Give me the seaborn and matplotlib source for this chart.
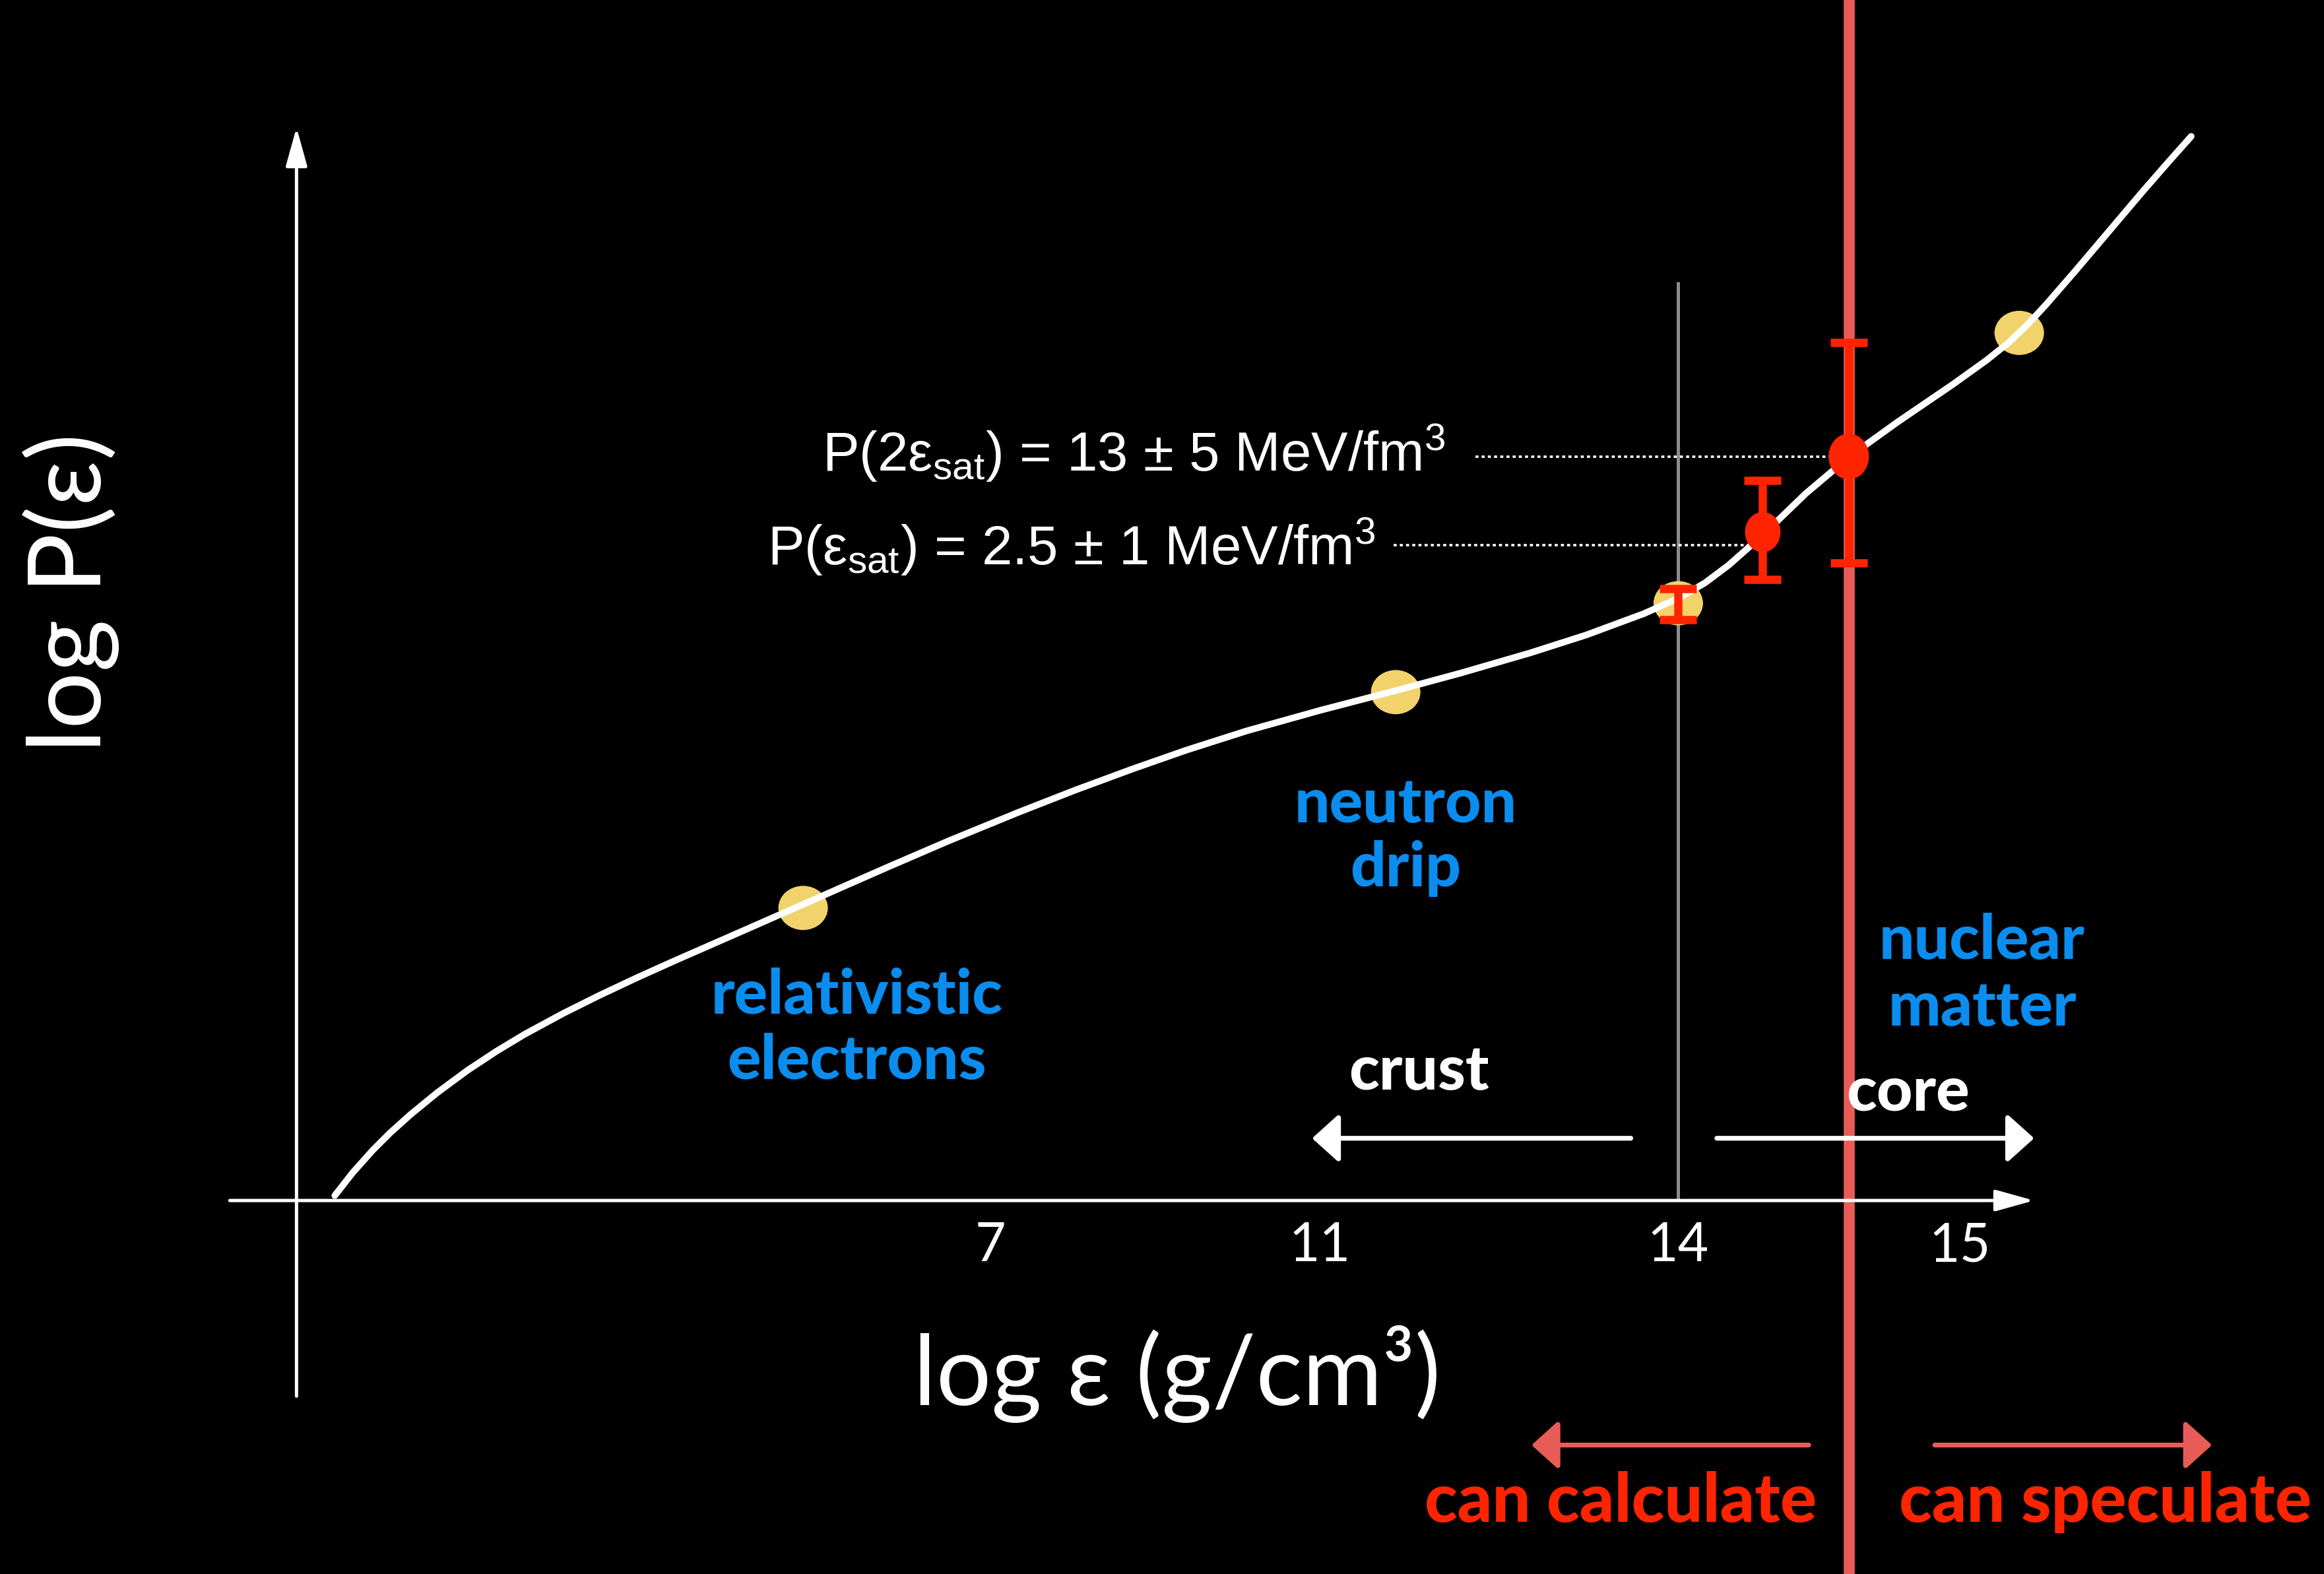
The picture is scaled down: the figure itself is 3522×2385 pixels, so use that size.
import matplotlib
matplotlib.use("Agg")
import matplotlib.pyplot as plt
import matplotlib.font_manager as fm
import seaborn as sns
import pandas as pd
import numpy as np
from matplotlib.path import Path
from matplotlib.markers import MarkerStyle

# ---------------- data (schematic units; y grows downward) ----
curve_x = [225.8, 238, 251.4, 263, 276.9, 295, 315.3, 335, 353.6, 380, 404.7, 430, 455.8,
           480, 506.9, 541.7, 570, 598.9, 640, 687.4, 725, 764, 800, 840.7, 890, 941.4,
           985, 1032.2, 1070, 1108.9, 1133, 1150, 1166, 1189, 1218, 1247.6, 1280, 1317,
           1340, 1355, 1368, 1380, 1400, 1420, 1445, 1462, 1478]
curve_y = [806.7, 791.1, 776.1, 764.5, 752, 737.2, 722.2, 709.2, 698, 683.7, 671.4, 659.5,
           647.9, 637.3, 625.5, 610.2, 597.7, 585, 567.3, 547.9, 533.2, 518.8, 506.2, 493.2,
           479.4, 466, 454.2, 440.5, 428.4, 414, 403.2, 393.3, 381.3, 361, 333, 308, 284.7,
           259.5, 243, 231, 218.6, 205.6, 182.6, 159, 129.5, 110, 92]

dot_x = [541.7, 941.4, 1132, 1362]
dot_y = [612.6, 467, 407, 224.6]

err_x = [1132, 1189, 1247]
err_y = [407, 359, 308]
err_up = [10, 35, 77]
err_down = [11, 32, 72]
meas_x = [1189, 1247]
meas_y = [359, 308]
meas_size = [22, 25]

tick_pos = [668, 890, 1132, 1322]
tick_labels = ["7", "11", "14", "15"]

x_sat = 1132
x_2sat = 1247

anno_texts = [r"P(2ε$_{\mathregular{sat}}$) = 13 ± 5 MeV/fm$^{\mathregular{3}}$",
              r"P(ε$_{\mathregular{sat}}$) = 2.5 ± 1 MeV/fm$^{\mathregular{3}}$"]
anno_right = [975, 928]
anno_base = [318, 381]
dot_line_y = [308, 368]
dot_line_x0 = [995, 940]
dot_line_x1 = [1240, 1185]

blue_texts = ["relativistic", "electrons", "neutron", "drip", "nuclear", "matter"]
blue_x = [578, 578, 948, 948, 1337, 1337]
blue_base = [684, 728, 555, 598, 647, 692]

region_texts = ["crust", "core"]
region_x = [957, 1287]
region_base = [735, 749]

red_texts = ["can calculate", "can speculate"]
red_x = [1093, 1420]
red_base = [1027, 1027]

white_arrows_from = [(1100, 768), (1158, 768)]
white_arrows_to = [(885, 768), (1372, 768)]
red_arrows_from = [(1220, 975), (1305, 975)]
red_arrows_to = [(1033, 975), (1492, 975)]

# ---------------- style ----------------
sns.set_theme(style="dark", rc={"axes.facecolor": "black", "figure.facecolor": "black"})
avail = {f.name for f in fm.fontManager.ttflist}
gill = ["Lato", "DejaVu Sans"]
helv = ["Liberation Sans Narrow", "Liberation Sans", "DejaVu Sans"] if "Liberation Sans Narrow" in avail \
    else ["Liberation Sans", "DejaVu Sans"]
plt.rcParams["font.family"] = gill
plt.rcParams["mathtext.default"] = "regular"

BLUE = "#0A8DEE"
RED = "#FF2400"
CHALK_RED = "#E85C58"
YELLOW = "#F2D26B"

fig = plt.figure(figsize=(3523 / 200, 2385 / 200), dpi=200)
ax = fig.add_axes([0, 0, 1, 1])

# axes arrows
ax.annotate("", xy=(1372, 810), xytext=(155, 810),
            arrowprops=dict(arrowstyle="-|>,head_width=0.25,head_length=0.9", color="white",
                            lw=1.8, mutation_scale=20, shrinkA=0, shrinkB=0))
ax.annotate("", xy=(200, 86), xytext=(200, 942),
            arrowprops=dict(arrowstyle="-|>,head_width=0.25,head_length=0.9", color="white",
                            lw=1.8, mutation_scale=20, shrinkA=0, shrinkB=0))

# gray and red vertical lines
ax.vlines(x_sat, 190, 810, color="#8C8C90", lw=1.8, zorder=2)
ax.axvline(x_2sat, color=CHALK_RED, lw=6, zorder=2)

# yellow dots (behind the curve)
ell = Path.unit_circle()
wide = MarkerStyle(Path(ell.vertices * np.array([1.12, 1.0]), ell.codes))
tall = MarkerStyle(Path(ell.vertices * np.array([0.88, 1.0]), ell.codes))
sns.scatterplot(x=dot_x, y=dot_y, ax=ax, marker=wide, s=27 ** 2, color=YELLOW,
                edgecolor="none", zorder=3, legend=False)

# EOS curve
df = pd.DataFrame({"x": curve_x, "y": curve_y})
sns.lineplot(data=df, x="x", y="y", ax=ax, sort=False, estimator=None, color="white",
             lw=3.6, zorder=4, legend=False, solid_capstyle="round", solid_joinstyle="round")

# dotted guide lines
for y, x0, x1 in zip(dot_line_y, dot_line_x0, dot_line_x1):
    ax.plot([x0, x1], [y, y], color="white", lw=1.3, ls=(0, (1.3, 1.3)), zorder=3)

# error bars
ax.errorbar(err_x, err_y, yerr=[err_up, err_down], fmt="none", ecolor=RED,
            elinewidth=4.5, capsize=10, capthick=4.5, zorder=5)
for x, y, s in zip(meas_x, meas_y, meas_size):
    ax.scatter([x], [y], marker=tall, s=s ** 2, color=RED, edgecolor="none", zorder=6)

# annotation texts
for t, x, y in zip(anno_texts, anno_right, anno_base):
    ax.text(x, y, t, ha="right", va="baseline", color="white", fontsize=30, family=helv)

# tick labels
for p, lab in zip(tick_pos, tick_labels):
    ax.text(p, 851, lab, ha="center", va="baseline", color="white", fontsize=29)

# axis labels
ax.text(794, 948, "log ε (g/cm³)", ha="center", va="baseline", color="white", fontsize=53)
ax.text(48, 400, "log P(ε)", ha="center", va="center", rotation=90, color="white",
        fontsize=55)

# region texts
for t, x, y in zip(blue_texts, blue_x, blue_base):
    ax.text(x, y, t, ha="center", va="baseline", color=BLUE, fontsize=34, fontweight="black")
for t, x, y in zip(region_texts, region_x, region_base):
    ax.text(x, y, t, ha="center", va="baseline", color="white", fontsize=34, fontweight="black")
for t, x, y in zip(red_texts, red_x, red_base):
    ax.text(x, y, t, ha="center", va="baseline", color=RED, fontsize=37, fontweight="black")

# region arrows
for a, b in zip(white_arrows_from, white_arrows_to):
    ax.annotate("", xy=b, xytext=a,
                arrowprops=dict(arrowstyle="-|>,head_width=0.45,head_length=0.5", color="white",
                                lw=2.6, mutation_scale=25, shrinkA=0, shrinkB=0))
for a, b in zip(red_arrows_from, red_arrows_to):
    ax.annotate("", xy=b, xytext=a,
                arrowprops=dict(arrowstyle="-|>,head_width=0.45,head_length=0.5", color=CHALK_RED,
                                lw=2.6, mutation_scale=25, shrinkA=0, shrinkB=0))

ax.set_xlim(0, 1568)
ax.set_ylim(1062, 0)
ax.axis("off")

fig.savefig("out.png", dpi=200, facecolor="black")
